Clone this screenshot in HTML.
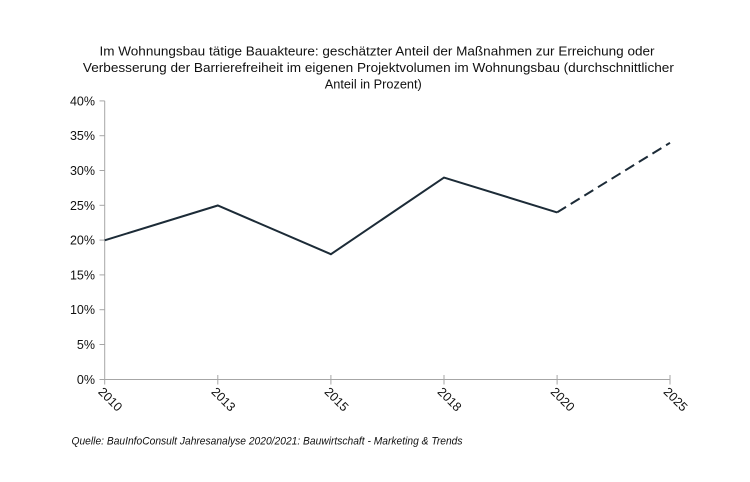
<!DOCTYPE html>
<html><head><meta charset="utf-8"><style>
html,body{margin:0;padding:0;background:#fff;}
svg{display:block;}
text{font-family:"Liberation Sans",Arial,sans-serif;fill:#111;}
</style></head><body>
<svg width="750" height="482" viewBox="0 0 750 482" xmlns="http://www.w3.org/2000/svg">
<rect width="750" height="482" fill="#fff"/>
<g font-size="12.5" text-anchor="middle">
<text x="377" y="55.5" textLength="555" lengthAdjust="spacingAndGlyphs">Im Wohnungsbau  tätige Bauakteure: geschätzter Anteil der Maßnahmen zur Erreichung oder</text>
<text x="378.4" y="72" textLength="591" lengthAdjust="spacingAndGlyphs">Verbesserung  der Barrierefreiheit im eigenen Projektvolumen  im Wohnungsbau  (durchschnittlicher</text>
<text x="373.3" y="88.5" textLength="97" lengthAdjust="spacingAndGlyphs">Anteil in Prozent)</text>
</g>
<g stroke="#a6a6a6" stroke-width="1" fill="none">
<line x1="104.7" y1="100.9" x2="104.7" y2="379.5"/>
<line x1="104.7" y1="379.5" x2="670" y2="379.5"/>
<line x1="99.5" y1="100.9" x2="104.7" y2="100.9"/>
<line x1="99.5" y1="135.7" x2="104.7" y2="135.7"/>
<line x1="99.5" y1="170.5" x2="104.7" y2="170.5"/>
<line x1="99.5" y1="205.3" x2="104.7" y2="205.3"/>
<line x1="99.5" y1="240.1" x2="104.7" y2="240.1"/>
<line x1="99.5" y1="274.9" x2="104.7" y2="274.9"/>
<line x1="99.5" y1="309.7" x2="104.7" y2="309.7"/>
<line x1="99.5" y1="344.5" x2="104.7" y2="344.5"/>
<line x1="99.5" y1="379.5" x2="104.7" y2="379.5"/>
<line x1="104.7" y1="379.5" x2="104.7" y2="384.5"/>
<line x1="217.8" y1="375" x2="217.8" y2="384.5"/>
<line x1="330.9" y1="375" x2="330.9" y2="384.5"/>
<line x1="444" y1="375" x2="444" y2="384.5"/>
<line x1="557.1" y1="375" x2="557.1" y2="384.5"/>
<line x1="670" y1="375" x2="670" y2="384.5"/>
</g>
<g font-size="12.5" text-anchor="end">
<text x="95" y="105.4">40%</text>
<text x="95" y="140.2">35%</text>
<text x="95" y="175">30%</text>
<text x="95" y="209.8">25%</text>
<text x="95" y="244.6">20%</text>
<text x="95" y="279.4">15%</text>
<text x="95" y="314.2">10%</text>
<text x="95" y="349">5%</text>
<text x="95" y="384">0%</text>
</g>
<g font-size="12.5">
<text x="97.5" y="392.5" transform="rotate(45 97.5 392.5)">2010</text>
<text x="210.6" y="392.5" transform="rotate(45 210.6 392.5)">2013</text>
<text x="323.7" y="392.5" transform="rotate(45 323.7 392.5)">2015</text>
<text x="436.8" y="392.5" transform="rotate(45 436.8 392.5)">2018</text>
<text x="549.9" y="392.5" transform="rotate(45 549.9 392.5)">2020</text>
<text x="662.8" y="392.5" transform="rotate(45 662.8 392.5)">2025</text>
</g>
<polyline points="104.7,240.3 217.8,205.5 330.9,254.2 444,177.6 557.1,212.4" fill="none" stroke="#1c2b37" stroke-width="2" stroke-linejoin="miter"/>
<line x1="557.1" y1="212.4" x2="670" y2="142.8" stroke="#1c2b37" stroke-width="2" stroke-dasharray="10.5,5.5"/>
<text x="71.5" y="444.5" font-size="11" font-style="italic" fill="#222" textLength="391" lengthAdjust="spacingAndGlyphs">Quelle: BauInfoConsult Jahresanalyse 2020/2021: Bauwirtschaft  - Marketing &amp; Trends</text>
</svg>
</body></html>
